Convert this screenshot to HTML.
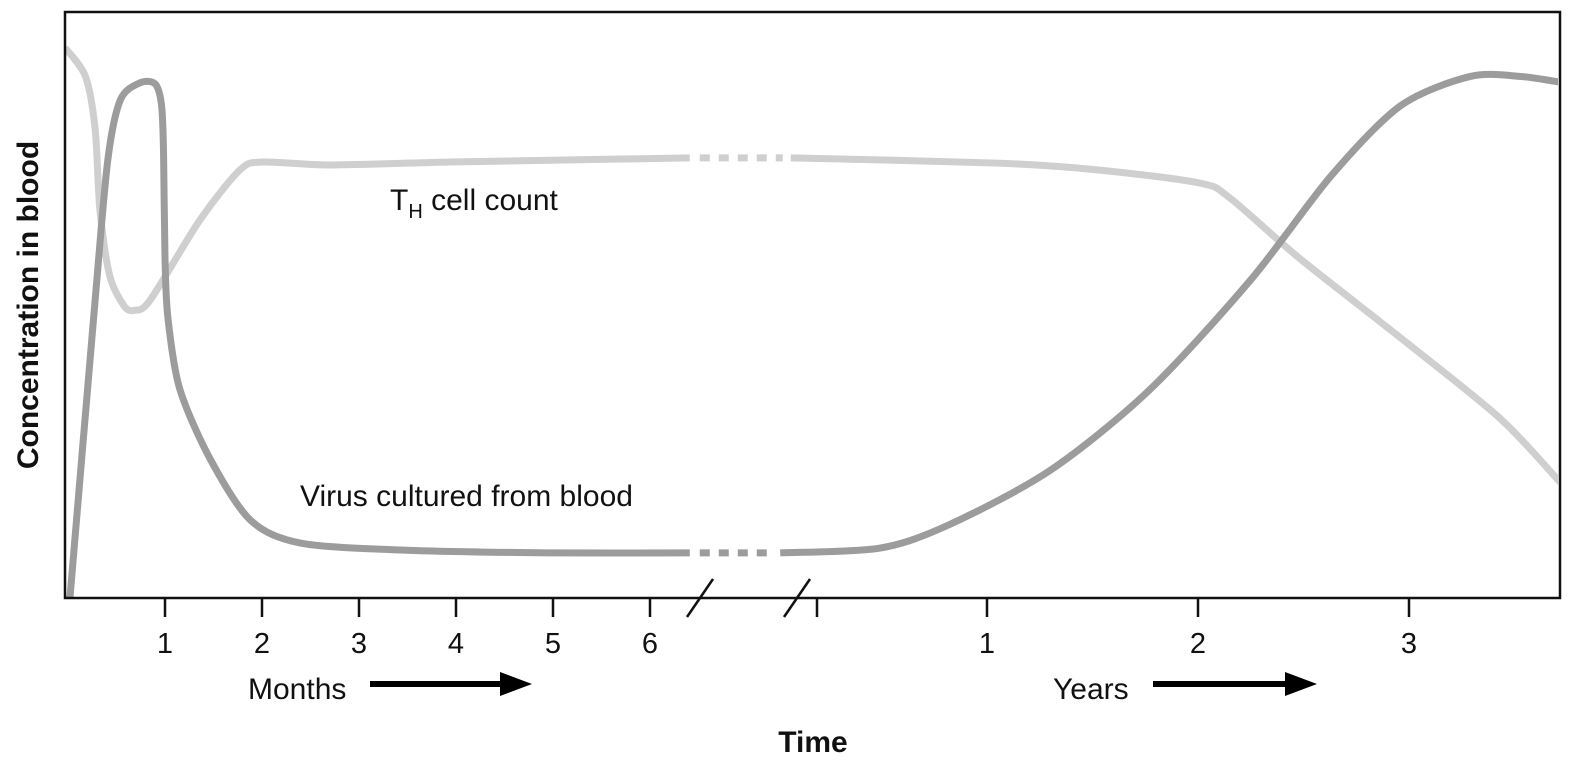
<!DOCTYPE html>
<html><head><meta charset="utf-8"><style>
body{margin:0;background:#fff;}
svg text{font-family:"Liberation Sans",Arial,sans-serif;fill:#111;}
</style></head><body>
<svg id="chart" width="1589" height="773" viewBox="0 0 1589 773" xmlns="http://www.w3.org/2000/svg">
<defs><clipPath id="plotclip"><rect x="66" y="14" width="1492" height="583"/></clipPath></defs>
<g id="curves" clip-path="url(#plotclip)"></g>
<rect x="65" y="12" width="1495" height="586" fill="none" stroke="#111" stroke-width="2.5"/>
<g id="axis"></g>
<text x="390" y="210" font-size="30">T<tspan font-size="20" dy="8">H</tspan><tspan dy="-8"> cell count</tspan></text>
<text x="300" y="506" font-size="30">Virus cultured from blood</text>
<text x="248" y="699" font-size="30">Months</text>
<g><line x1="370" y1="684" x2="505" y2="684" stroke="#000" stroke-width="6"/><polygon points="500,672 532,684 500,696" fill="#000"/></g>
<text x="1053" y="699" font-size="30">Years</text>
<g><line x1="1153" y1="684" x2="1290" y2="684" stroke="#000" stroke-width="6"/><polygon points="1285,672 1317,684 1285,696" fill="#000"/></g>
<text x="813" y="752" font-size="30" font-weight="bold" text-anchor="middle">Time</text>
<text transform="translate(38,305) rotate(-90)" font-size="30" font-weight="bold" text-anchor="middle">Concentration in blood</text>
</svg>
<script>
const monthTicks = [1,2,3,4,5,6];
const yearTicks = [1,2,3];
const virusMonths = [0.02,0.28,0.41,0.54,0.74,0.90,0.965,0.985,1.0,1.03,1.15,1.46,1.88,2.39,3.42,4.97,6.41];
const virusMonthConc = [0,50.9,74.7,85,87.9,87.7,84,76,58,47.8,35.8,23.9,13.3,9.4,8.2,7.7,7.7];
const virusYears = [0.02,0.49,0.82,1.30,1.77,2.25,2.63,2.96,3.29,3.53,3.72];
const virusYearConc = [7.7,8.5,12.5,21.8,35.5,54.3,72,84,89,89,88];
const thMonths = [-0.03,0.18,0.28,0.33,0.43,0.58,0.69,0.85,1.36,1.77,2.0,2.7,3.94,4.97,6.41];
const thMonthConc = [93.9,89,80,66,55,49.8,49.1,50.9,64.5,73,74.4,73.9,74.4,74.7,75.1];
const thYears = [0.07,1.06,1.54,2.01,2.15,2.48,2.96,3.43,3.72];
const thYearConc = [75.1,74.2,73,70.8,68.3,58,44.4,30.7,19.6];

const NS='http://www.w3.org/2000/svg';
function xMonth(m){return 68+97*m;}
function xYear(y){return 776+211*y;}
function yScale(v){return 598-v*5.86;}
function smooth(pts){
  let d='M'+pts[0][0]+','+pts[0][1];
  for(let i=0;i<pts.length-1;i++){
    const p0=pts[i-1]||pts[i],p1=pts[i],p2=pts[i+1],p3=pts[i+2]||p2;
    const c1=[p1[0]+(p2[0]-p0[0])/7,p1[1]+(p2[1]-p0[1])/7];
    const c2=[p2[0]-(p3[0]-p1[0])/7,p2[1]-(p3[1]-p1[1])/7];
    d+=` C${c1[0]},${c1[1]} ${c2[0]},${c2[1]} ${p2[0]},${p2[1]}`;
  }
  return d;
}
const g=document.getElementById('curves');
function addPath(d,color,name,dash){
  const p=document.createElementNS(NS,'path');
  p.setAttribute('d',d);p.setAttribute('fill','none');p.setAttribute('stroke',color);
  p.setAttribute('stroke-width','7');p.setAttribute('stroke-linecap','butt');p.setAttribute('stroke-linejoin','round');
  if(dash)p.setAttribute('stroke-dasharray',dash);
  
  
  g.appendChild(p);return p;
}
function series(ms,mc,ys,yc,color,name){
  const a=ms.map((m,i)=>[xMonth(m),yScale(mc[i])]);
  const b=ys.map((y,i)=>[xYear(y),yScale(yc[i])]);
  addPath(smooth(a),color,name+'-months');
  addPath(smooth(b),color,name+'-years');
  const la=a[a.length-1],fb=b[0];
  addPath(`M${la[0]+10},${la[1]} L${fb[0]-8},${fb[1]}`,color,name+'-gap-dotted','10,9');
}
series(thMonths,thMonthConc,thYears,thYearConc,'#cfcfcf','th-cell-curve');
series(virusMonths,virusMonthConc,virusYears,virusYearConc,'#9c9c9c','virus-curve');

const ax=document.getElementById('axis');
function tick(x,label,name){
  const l=document.createElementNS(NS,'line');
  l.setAttribute('x1',x);l.setAttribute('x2',x);l.setAttribute('y1',598);l.setAttribute('y2',617);
  l.setAttribute('stroke','#111');l.setAttribute('stroke-width','2.5');
  
  
  ax.appendChild(l);
  if(label!==null){
    const t=document.createElementNS(NS,'text');
    t.setAttribute('x',x);t.setAttribute('y',653);t.setAttribute('font-size','29');t.setAttribute('text-anchor','middle');
    t.textContent=label;
    
    
    ax.appendChild(t);
  }
}
monthTicks.forEach(m=>tick(xMonth(m),String(m),'month-'+m));
tick(817,null,'year-start');
yearTicks.forEach(y=>tick(xYear(y),String(y),'year-'+y));
[700,797].forEach((x,i)=>{
  const s=document.createElementNS(NS,'line');
  s.setAttribute('x1',x-13);s.setAttribute('y1',617);s.setAttribute('x2',x+13);s.setAttribute('y2',579);
  s.setAttribute('stroke','#111');s.setAttribute('stroke-width','2.5');
  
  
  ax.appendChild(s);
});
</script>
</body></html>
